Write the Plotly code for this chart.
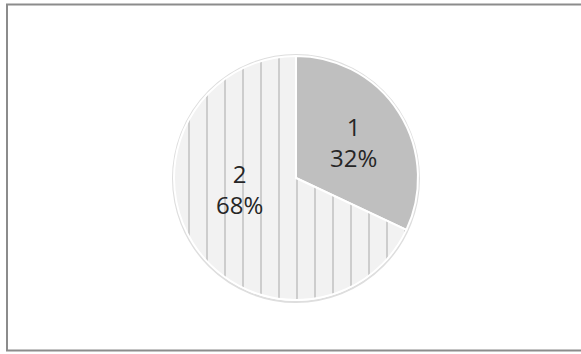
import plotly.graph_objects as go

labels = ["1", "2"]
values = [32, 68]
colors = ["#bfbfbf", "#f2f2f2"]

W, H = 581, 354

# label anchor points (pixels in the page), styling only
label_px = [(354, 142), (239, 189)]

total = sum(values)

fig = go.Figure()
fig.add_trace(go.Pie(
    labels=labels,
    values=values,
    sort=False,
    direction="clockwise",
    rotation=0,
    textinfo="none",
    marker=dict(
        colors=colors,
        line=dict(color="#ffffff", width=2),
        pattern=dict(
            shape=["", "|"],
            size=18,
            solidity=0.11,
            fgcolor="#cdcdcd",
            bgcolor=colors,
            fillmode="replace",
        ),
    ),
    domain=dict(x=[174 / W, 418 / W], y=[54 / H, 298 / H]),
    showlegend=False,
    hoverinfo="skip",
))

for lab, val, (px, py) in zip(labels, values, label_px):
    fig.add_annotation(
        xref="paper", yref="paper", x=px / W, y=1 - py / H,
        text=f"{lab}<br>{round(100 * val / total)}%",
        showarrow=False, xanchor="center", yanchor="middle",
        font=dict(family="Open Sans", size=24, color="#262626"),
    )

# soft rim around the pie
fig.add_shape(type="circle", xref="paper", yref="paper", layer="below",
              x0=173 / W, x1=419 / W, y0=1 - 302 / H, y1=1 - 55 / H,
              line=dict(color="#dedede", width=2), fillcolor="rgba(0,0,0,0)")

fig.add_shape(type="rect", xref="paper", yref="paper",
              x0=7 / W, x1=1.05, y0=1 - 350.5 / H, y1=1 - 4.5 / H,
              line=dict(color="#8c8c8c", width=2), fillcolor="rgba(0,0,0,0)")

fig.update_layout(
    width=W, height=H,
    margin=dict(l=0, r=0, t=0, b=0),
    paper_bgcolor="#ffffff",
    plot_bgcolor="#ffffff",
)

fig.write_html("out.html")
